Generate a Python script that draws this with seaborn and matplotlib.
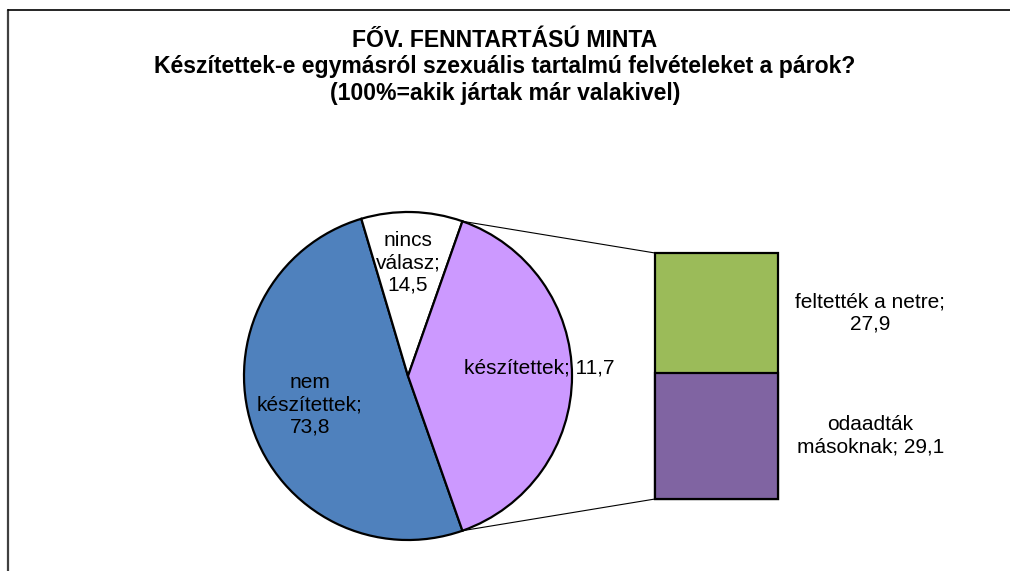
import matplotlib
matplotlib.use("Agg")
import matplotlib.pyplot as plt
from matplotlib.patches import ConnectionPatch
from matplotlib.lines import Line2D
import numpy as np
import seaborn as sns

# data
pie_labels = ["nem\nkészítettek", "nincs\nválasz", "készítettek"]
pie_values = [73.8, 14.5, 11.7]
bar_labels = ["feltették a netre", "odaadták\nmásoknak"]
bar_values = [27.9, 29.1]
title_lines = ["FŐV. FENNTARTÁSÚ MINTA",
               "Készítettek-e egymásról szexuális tartalmú felvételeket a párok?",
               "(100%=akik jártak már valakivel)"]

sns.set_theme(style="white")
plt.rcParams['font.family'] = ['Liberation Sans', 'DejaVu Sans']
plt.rcParams['text.color'] = 'black'

pie_colors = ["#4F81BD", "#FFFFFF", "#CC99FF"]
bar_colors = ["#9BBB59", "#8064A2"]
W, H = 1010, 571

def fmt(v):
    return f"{v:.1f}".replace(".", ",")

fig = plt.figure(figsize=(W / 100, H / 100), dpi=100)
fig.patch.set_facecolor("white")

# pie: the "készítettek" wedge is the sum of the bar (Excel bar-of-pie)
wedge_sizes = [pie_values[0], pie_values[1], sum(bar_values)]
total = sum(wedge_sizes)
start = -0.5 * wedge_sizes[2] / total * 360

cx, cy, r = 408, 376, 164
ax_pie = fig.add_axes([(cx - r) / W, (H - cy - r) / H, 2 * r / W, 2 * r / H])
wedges, _ = ax_pie.pie(wedge_sizes, colors=pie_colors, startangle=start,
                       counterclock=False,
                       wedgeprops=dict(edgecolor="black", linewidth=1.6))
for w in wedges:
    w.set_clip_on(False)
ax_pie.set_xlim(-1, 1)
ax_pie.set_ylim(-1, 1)
ax_pie.set_axis_off()

pie_seps = [";\n", ";\n", "; "]
pie_pos = [(-0.598, -0.177), (0.0, 0.689), (0.80, 0.049)]
for lab, val, sep, (px, py) in zip(pie_labels, pie_values, pie_seps, pie_pos):
    ax_pie.text(px, py, lab + sep + fmt(val), ha="center", va="center",
                fontsize=15, linespacing=1.23, color="black", clip_on=False)

# stacked bar
bx0, bx1, by0, by1 = 655, 778, 253, 499
ax_bar = fig.add_axes([bx0 / W, (H - by1) / H, (bx1 - bx0) / W, (by1 - by0) / H])
sns.barplot(x=[0], y=[sum(bar_values)], color=bar_colors[0], saturation=1,
            width=0.8, edgecolor="black", linewidth=1.6, errorbar=None, ax=ax_bar)
sns.barplot(x=[0], y=[bar_values[1]], color=bar_colors[1], saturation=1,
            width=0.8, edgecolor="black", linewidth=1.6, errorbar=None, ax=ax_bar)
for p in ax_bar.patches:
    p.set_clip_on(False)
ax_bar.set_xlim(-0.4, 0.4)
ax_bar.set_ylim(0, sum(bar_values))
ax_bar.set_axis_off()

bar_seps = [";\n", "; "]
mids = [bar_values[1] + bar_values[0] / 2, bar_values[1] / 2]
for lab, val, sep, m in zip(bar_labels, bar_values, bar_seps, mids):
    ax_bar.text(1.75, m, lab + sep + fmt(val), ha="center", va="center",
                fontsize=15, linespacing=1.23, transform=ax_bar.get_yaxis_transform(),
                clip_on=False)

# connector lines
t1, t2 = np.deg2rad(wedges[2].theta1), np.deg2rad(wedges[2].theta2)
for ang, yb in [(t2, sum(bar_values)), (t1, 0)]:
    con = ConnectionPatch(xyA=(-0.4, yb), coordsA=ax_bar.transData,
                          xyB=(np.cos(ang), np.sin(ang)), coordsB=ax_pie.transData,
                          color="black", linewidth=0.8)
    fig.add_artist(con)

# title
fig.text(0.5, 1 - 67 / H, "\n".join(title_lines), ha="center", va="center",
         fontsize=16.6, fontweight="bold", linespacing=1.21, color="black")

# chart border (cropped)
fig.add_artist(Line2D([8 / W, 8 / W], [0, 1 - 10 / H], transform=fig.transFigure,
                      color="#404040", linewidth=1.6))
fig.add_artist(Line2D([8 / W, 1], [1 - 10 / H, 1 - 10 / H], transform=fig.transFigure,
                      color="black", linewidth=1.2))
fig.text(2 / W, 1 + 6 / H, "a", ha="left", va="center", fontsize=14,
         fontweight="bold", color="#888888")

fig.savefig("out.png", dpi=100)
